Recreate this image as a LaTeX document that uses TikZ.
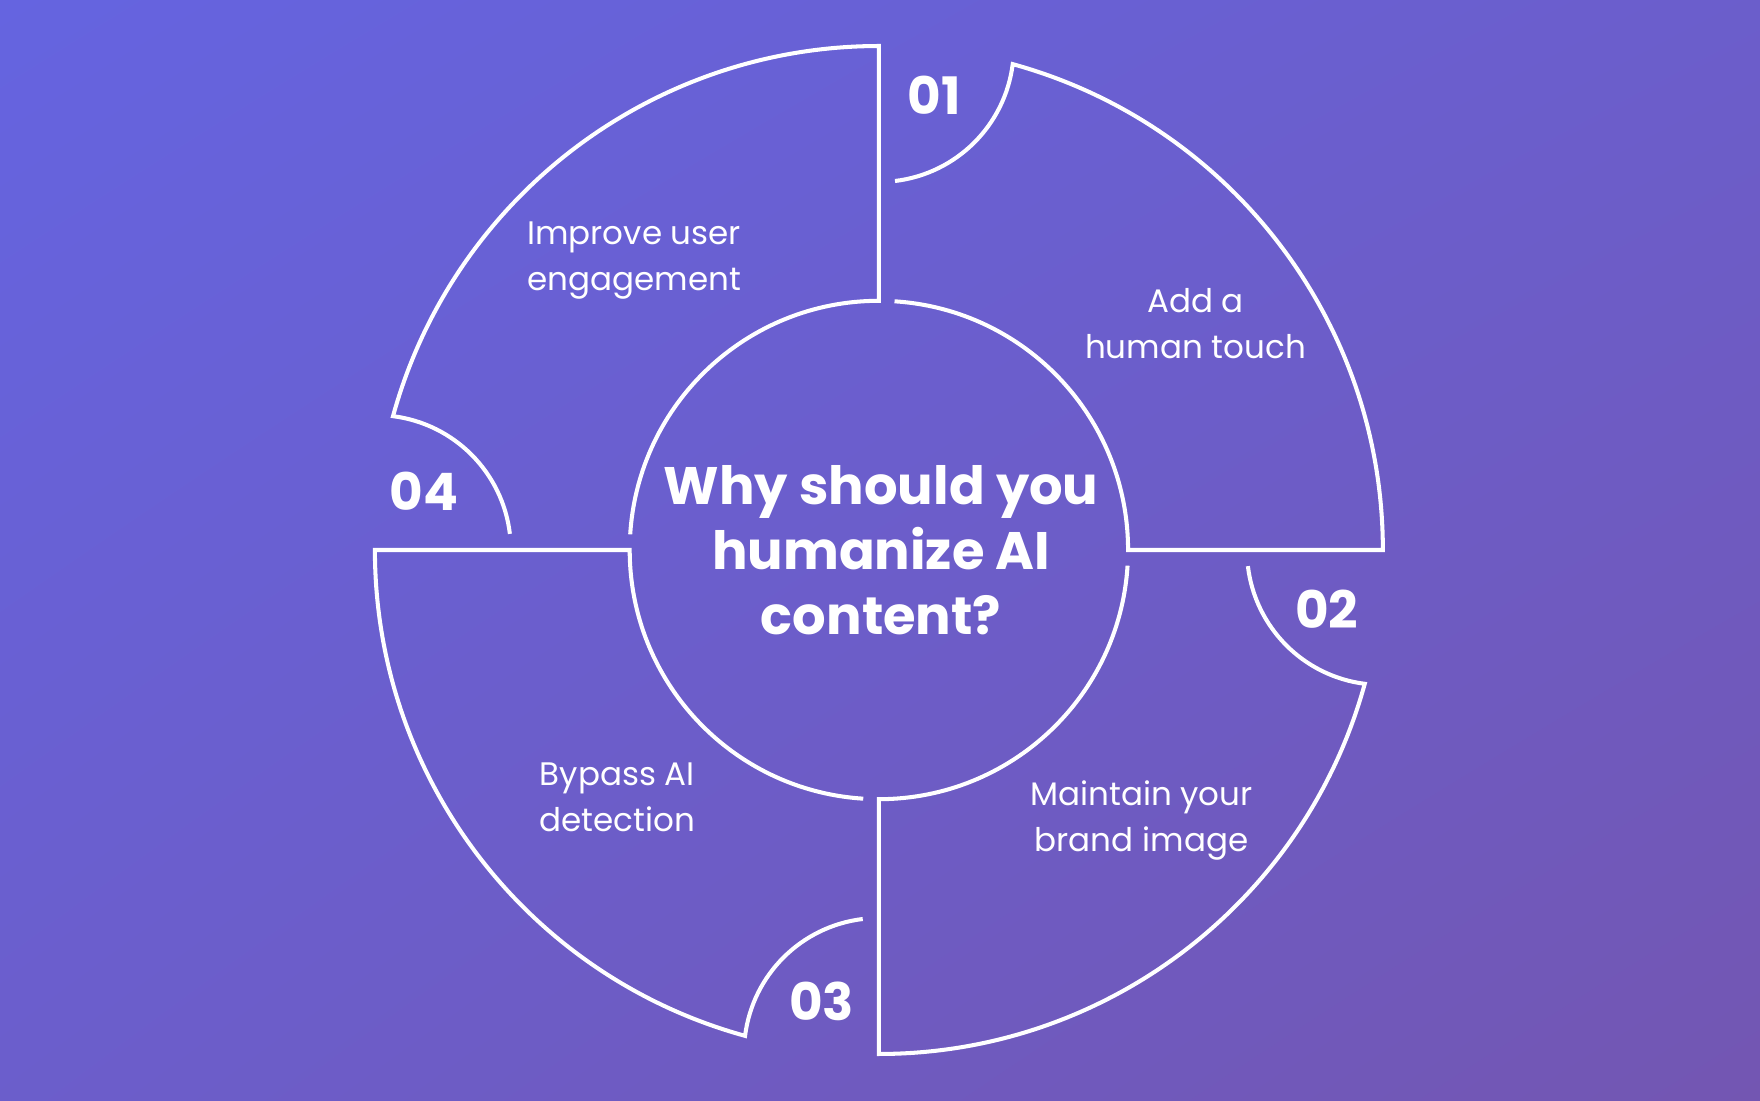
\documentclass[tikz,border=0pt]{standalone}
\usepackage{fontspec}
\setmainfont{Poppins}
\usetikzlibrary{shadings}
\begin{document}
\begin{tikzpicture}[x=0.5pt,y=0.5pt,
  seg/.style={draw=white,line width=1.8pt,line join=miter},
  lbl/.style={text=white,font=\fontsize{14.5}{20.5}\selectfont,align=center},
  num/.style={text=white,font=\fontsize{23}{26}\selectfont\bfseries},
  ttl/.style={text=white,font=\fontsize{23.5}{29}\selectfont\bfseries,align=center}]
\definecolor{bgA}{RGB}{101,100,224}
\definecolor{bgB}{RGB}{115,86,178}
\colorlet{bgM}{bgA!55!bgB}
\useasboundingbox (0,0) rectangle (1568,980);
\shade[upper left=bgA,upper right=bgM,lower left=bgM,lower right=bgB] (0,0) rectangle (1568,980);
\coordinate (c) at (783,490);
\foreach \k in {0,1,2,3}{
\begin{scope}[shift={(c)},rotate=-90*\k]
\draw[seg] (86.4:222) arc[start angle=86.4,end angle=0,radius=222] -- (0:449)
  arc[start angle=0,end angle=74.6,radius=449]
  arc[start angle=-7.2,end angle=-83.2,radius=120];
\end{scope}}
\node[num] (n1) at (832,895) {01};
\node[num] (n2) at (1182,437) {02};
\node[num] (n3) at (732,88) {03};
\node[num] (n4) at (378,542) {04};
\node[lbl] (l4) at (565,748) {Improve user\\engagement};
\node[lbl] (l1) at (1065,692) {Add a\\human touch};
\node[lbl] (l2) at (1017,249) {Maintain your\\brand image};
\node[lbl] (l3) at (550,270) {Bypass AI\\detection};
\node[ttl] (t) at (785,490) {Why should you\\humanize AI\\content?};
\end{tikzpicture}
\end{document}
